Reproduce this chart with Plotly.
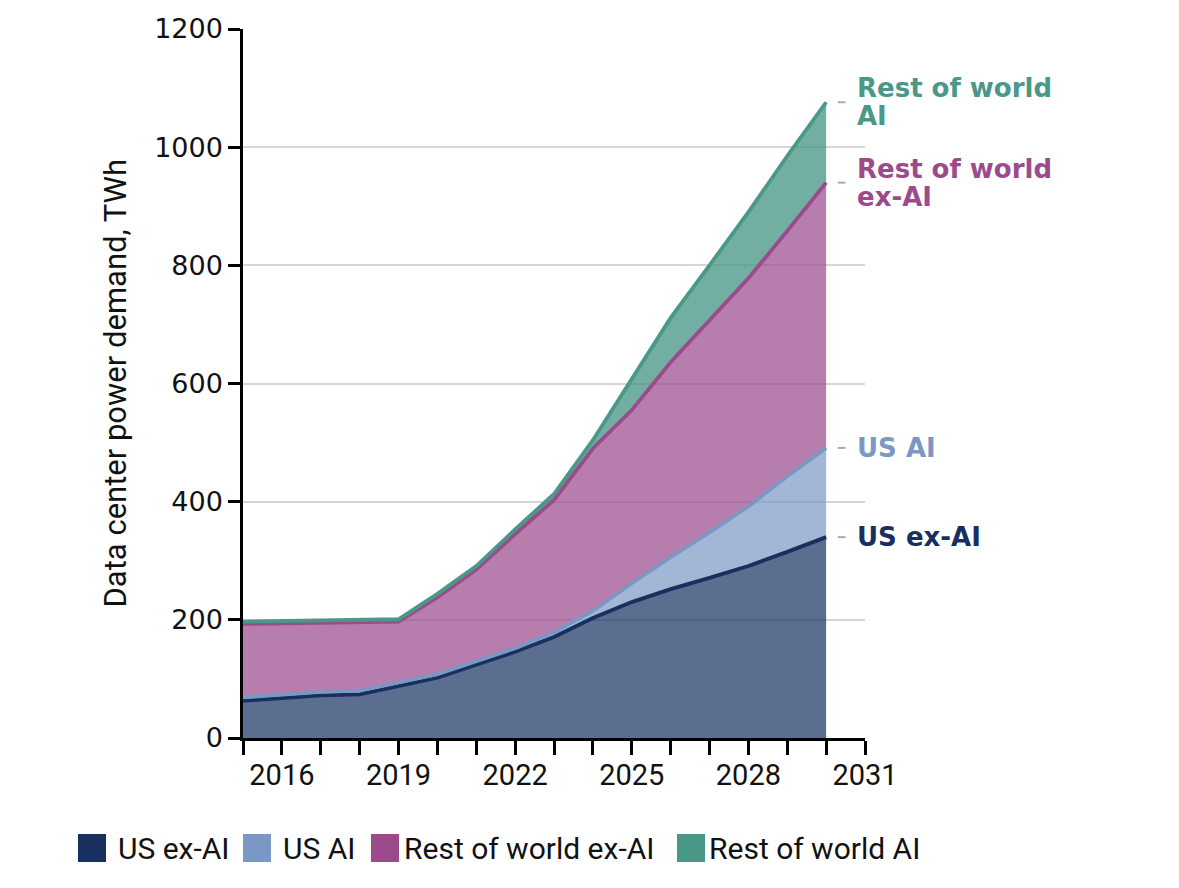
import plotly.graph_objects as go

years = list(range(2015, 2031))
us_ex_ai = [63, 67, 72, 74, 88, 102, 124, 146, 171, 203, 230, 252, 271, 291, 315, 340]
us_ai = [6, 6, 6, 6, 6, 6, 6, 6, 8, 12, 32, 54, 77, 101, 128, 151]
row_ex_ai = [124, 121, 118, 116, 103, 130, 155, 193, 224, 275, 293, 330, 359, 386, 415, 449]
row_ai = [4, 4, 4, 4, 4, 6, 6, 8, 10, 14, 52, 75, 93, 112, 127, 136]

series_names = ["US ex-AI", "US AI", "Rest of world ex-AI", "Rest of world AI"]
series_vals = [us_ex_ai, us_ai, row_ex_ai, row_ai]
line_colors = ["#17305f", "#7b98c4", "#9b4b8c", "#4a9888"]
fill_colors = ["rgba(23,48,95,0.70)", "rgba(123,152,196,0.70)",
               "rgba(155,75,140,0.72)", "rgba(74,152,136,0.78)"]
end_labels = [["US ex-AI"], ["US AI"], ["Rest of world", "ex-AI"], ["Rest of world", "AI"]]

NARROW = "Roboto, sans-serif"

# plot area in page pixels (page has an 8px offset)
PL, PR, PT, PB = 235, 857, 21, 730
PW, PH = PR - PL, PB - PT

fig = go.Figure()
for name, vals, lc, fc in zip(series_names, series_vals, line_colors, fill_colors):
    fig.add_trace(go.Scatter(
        x=years, y=vals, name=name, stackgroup="one", mode="lines",
        line=dict(color=lc, width=3.8), fillcolor=fc, showlegend=False,
    ))

cum = 0
annotations = []
shapes = []
for vals, lc, lab in zip(series_vals, line_colors, end_labels):
    cum += vals[-1]
    shapes.append(dict(type="line", xref="x", yref="y", x0=years[-1] + 0.3, x1=years[-1] + 0.5,
                       y0=cum, y1=cum, line=dict(color="#aaaaaa", width=2)))
    n = len(lab)
    for i, t in enumerate(lab):
        shift = (n - 1) * 14 - i * 28
        annotations.append(dict(x=years[-1] + 0.75, y=cum, xref="x", yref="y", text=t,
                                showarrow=False, xanchor="left", yanchor="middle", yshift=shift,
                                font=dict(family="DejaVu Sans", size=26, color=lc, weight="bold")))

annotations.append(dict(x=(107 - PL) / PW, y=0.5, xref="paper", yref="paper",
                        text="Data center power demand, TWh",
                        showarrow=False, textangle=-90, xanchor="center", yanchor="middle",
                        font=dict(family=NARROW, size=31, color="#111111")))

leg_items = [(70, 108), (235, 273), (363, 394), (669, 699)]
for (sx, tx), name, lc in zip(leg_items, series_names, line_colors):
    shapes.append(dict(type="rect", xref="paper", yref="paper",
                       x0=(sx - PL) / PW, x1=(sx + 28 - PL) / PW,
                       y0=(PB - 854) / PH, y1=(PB - 826) / PH,
                       fillcolor=lc, line=dict(width=0)))
    annotations.append(dict(x=(tx - PL) / PW, y=(PB - 840) / PH, xref="paper", yref="paper",
                            text=name, showarrow=False, xanchor="left", yanchor="middle",
                            font=dict(family=NARROW, size=30, color="#111111")))

fig.update_layout(
    width=1179, height=888,
    margin=dict(l=PL, r=1179 - PR, t=PT, b=888 - PB, autoexpand=False),
    plot_bgcolor="white", paper_bgcolor="white",
    shapes=shapes, annotations=annotations,
    showlegend=False,
)
fig.update_xaxes(
    range=[2015, 2031], tickmode="array", tickvals=[2016, 2019, 2022, 2025, 2028, 2031],
    ticks="outside", ticklen=14, tickwidth=2.5, tickcolor="black",
    showline=True, linecolor="black", linewidth=2.5, showgrid=False, zeroline=False,
    tickfont=dict(family=NARROW, size=29, color="#111111"), ticklabelstandoff=-5,
    minor=dict(tickmode="linear", tick0=2015, dtick=1, ticks="outside", ticklen=14,
               tickwidth=2.5, tickcolor="black", showgrid=False),
)
fig.update_yaxes(
    range=[0, 1200], tickvals=[0, 200, 400, 600, 800, 1000, 1200],
    ticks="outside", ticklen=12, tickwidth=2.5, tickcolor="black",
    showline=True, linecolor="black", linewidth=2.5,
    showgrid=True, gridcolor="#d6d6d6", gridwidth=2, zeroline=False,
    tickfont=dict(family="DejaVu Sans", size=27, color="#111111"),
)

fig.write_html("out.html")
